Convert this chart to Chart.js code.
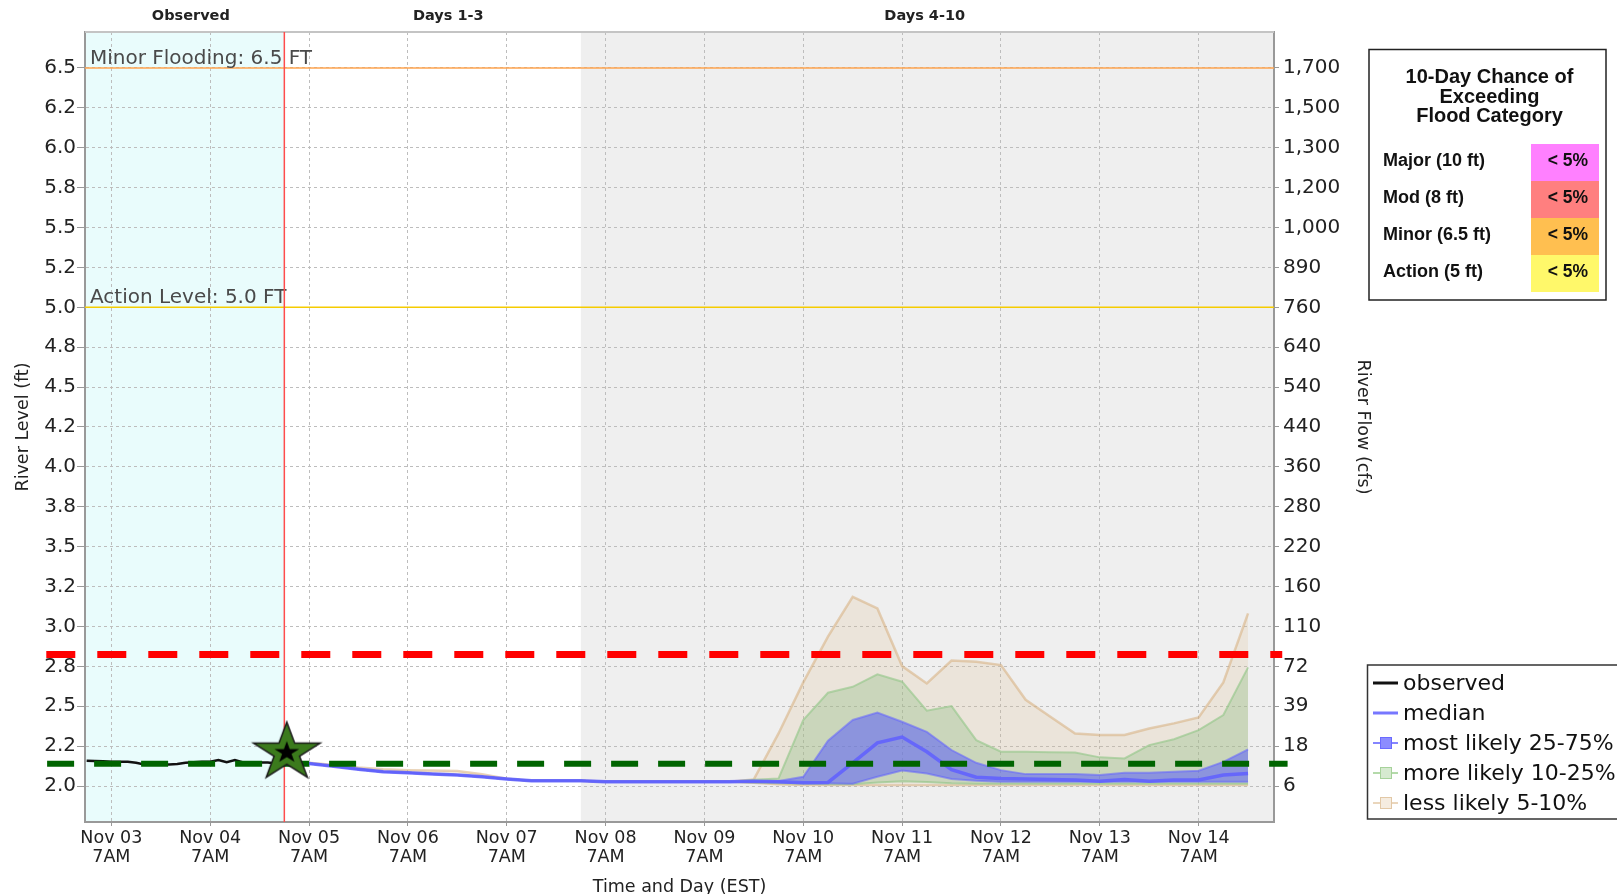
<!DOCTYPE html>
<html>
<head>
<meta charset="utf-8">
<title>River Level Forecast</title>
<script src="https://cdn.jsdelivr.net/npm/chart.js@4.4.1/dist/chart.umd.min.js"></script>
<style>
  html, body { margin: 0; padding: 0; background: #fff; overflow: hidden; }
  #wrap { position: relative; width: 1617px; height: 894px; }
</style>
</head>
<body>
<div id="wrap"><canvas id="riverChart"></canvas></div>
<script>
// Hours are counted from Nov 03 00:00 EST

// ---- axis ticks ----
const tickHours = [7, 31, 55, 79, 103, 127, 151, 175, 199, 223, 247, 271];
const xTickLabels = [
  ['Nov 03', '7AM'], ['Nov 04', '7AM'], ['Nov 05', '7AM'], ['Nov 06', '7AM'],
  ['Nov 07', '7AM'], ['Nov 08', '7AM'], ['Nov 09', '7AM'], ['Nov 10', '7AM'],
  ['Nov 11', '7AM'], ['Nov 12', '7AM'], ['Nov 13', '7AM'], ['Nov 14', '7AM']
];
const stageTicks = [2.0, 2.25, 2.5, 2.75, 3.0, 3.25, 3.5, 3.75, 4.0, 4.25, 4.5, 4.75, 5.0, 5.25, 5.5, 5.75, 6.0, 6.25, 6.5];
const stageTickLabels = ['2.0', '2.2', '2.5', '2.8', '3.0', '3.2', '3.5', '3.8', '4.0', '4.2', '4.5', '4.8', '5.0', '5.2', '5.5', '5.8', '6.0', '6.2', '6.5'];
const flowTickLabels = ['6', '18', '39', '72', '110', '160', '220', '280', '360', '440', '540', '640', '760', '890', '1,000', '1,200', '1,300', '1,500', '1,700'];

// ---- observed stage ----
const observedHours = [1, 3, 5, 7, 9, 11, 13, 15, 17, 19, 21, 23, 25, 27, 29, 31, 33, 35, 37, 39, 41, 43, 45, 47, 49];
const observedStage = [2.159, 2.157, 2.155, 2.152, 2.152, 2.152, 2.146, 2.136, 2.136, 2.135, 2.136, 2.138, 2.146,
  2.150, 2.152, 2.152, 2.163, 2.150, 2.163, 2.148, 2.148, 2.148, 2.148, 2.142, 2.145];

// ---- forecast (6-hourly) ----
const forecastHours = [49, 55, 61, 67, 73, 79, 85, 91, 97, 103, 109, 115, 121, 127, 133, 139, 145, 151, 157, 163,
  169, 175, 181, 187, 193, 199, 205, 211, 217, 223, 229, 235, 241, 247, 253, 259, 265, 271, 277, 283];
const medianStage = [2.145, 2.142, 2.125, 2.106, 2.090, 2.083, 2.075, 2.069, 2.058, 2.044, 2.033, 2.033, 2.033, 2.027, 2.027, 2.027, 2.027, 2.027, 2.027, 2.030,
  2.027, 2.021, 2.023, 2.146, 2.271, 2.307, 2.215, 2.103, 2.056, 2.048, 2.044, 2.042, 2.038, 2.031, 2.042, 2.031, 2.038, 2.038, 2.069, 2.079];
const likely75Stage = [2.145, 2.142, 2.125, 2.106, 2.090, 2.083, 2.075, 2.069, 2.058, 2.044, 2.033, 2.033, 2.033, 2.027, 2.027, 2.027, 2.027, 2.027, 2.027, 2.032,
  2.032, 2.058, 2.284, 2.414, 2.461, 2.403, 2.340, 2.226, 2.146, 2.100, 2.075, 2.075, 2.075, 2.069, 2.083, 2.083, 2.090, 2.096, 2.152, 2.230];
const likely25Stage = [2.145, 2.142, 2.125, 2.106, 2.090, 2.083, 2.075, 2.069, 2.058, 2.044, 2.033, 2.033, 2.033, 2.027, 2.027, 2.027, 2.027, 2.027, 2.027, 2.025,
  2.022, 2.018, 2.018, 2.015, 2.058, 2.098, 2.079, 2.044, 2.033, 2.027, 2.027, 2.027, 2.027, 2.027, 2.027, 2.027, 2.027, 2.027, 2.027, 2.027];
const more10Upper = [2.145, 2.142, 2.125, 2.106, 2.090, 2.083, 2.075, 2.069, 2.058, 2.044, 2.033, 2.033, 2.033, 2.027, 2.027, 2.027, 2.027, 2.027, 2.027, 2.040,
  2.048, 2.414, 2.585, 2.622, 2.700, 2.654, 2.472, 2.501, 2.288, 2.215, 2.215, 2.212, 2.210, 2.180, 2.173, 2.257, 2.294, 2.351, 2.445, 2.744];
const more10Lower = [2.145, 2.142, 2.125, 2.106, 2.090, 2.083, 2.075, 2.069, 2.058, 2.044, 2.033, 2.033, 2.033, 2.027, 2.027, 2.027, 2.027, 2.027, 2.027, 2.022,
  2.018, 2.014, 2.012, 2.012, 2.022, 2.030, 2.025, 2.018, 2.015, 2.015, 2.015, 2.015, 2.015, 2.015, 2.015, 2.015, 2.015, 2.015, 2.015, 2.015];
const less5Upper = [2.147, 2.146, 2.132, 2.117, 2.106, 2.100, 2.097, 2.094, 2.074, 2.046, 2.034, 2.034, 2.034, 2.028, 2.028, 2.028, 2.028, 2.028, 2.028, 2.042,
  2.330, 2.650, 2.936, 3.186, 3.113, 2.752, 2.643, 2.787, 2.779, 2.758, 2.541, 2.434, 2.330, 2.320, 2.320, 2.361, 2.393, 2.430, 2.650, 3.082];
const less5Lower = [2.145, 2.142, 2.125, 2.106, 2.090, 2.083, 2.075, 2.069, 2.058, 2.044, 2.033, 2.033, 2.033, 2.027, 2.027, 2.027, 2.027, 2.027, 2.027, 2.020,
  2.010, 2.006, 2.006, 2.006, 2.006, 2.006, 2.006, 2.006, 2.006, 2.006, 2.006, 2.006, 2.006, 2.006, 2.006, 2.006, 2.006, 2.006, 2.006, 2.006];

// ---- reference levels ----
const floodStages = [6.5, 5.0];
const floodLabels = ['Minor Flooding: 6.5 FT', 'Action Level: 5.0 FT'];
const nowHour = 49;          // end of observed period
const day4Hour = 121;        // start of days 4-10
const periodLabels = ['Observed', 'Days 1-3', 'Days 4-10'];
const latestPoint = [{x: 49.6, y: 2.21}];
const redDashHours = [-8.8, 291.3];
const redDashStage = [2.825, 2.825];
const greenDashHours = [-8.6, 292.6];
const greenDashStage = [2.14, 2.14];

// ---- legend / table text ----
const seriesNames = ['observed', 'median', 'most likely 25-75%', 'more likely 10-25%', 'less likely 5-10%'];
const chanceTitle = ['10-Day Chance of', 'Exceeding', 'Flood Category'];
const chanceCategories = ['Major (10 ft)', 'Mod (8 ft)', 'Minor (6.5 ft)', 'Action (5 ft)'];
const chanceValues = ['< 5%', '< 5%', '< 5%', '< 5%'];


function toPoints(xs, ys) {
  return xs.map((x, i) => ({x: x, y: ys[i]}));
}

// green star with a small black star inside (latest observation marker)
function makeStarMarker() {
  const c = document.createElement('canvas');
  c.width = 76;
  c.height = 66;
  const g = c.getContext('2d');
  const star = (rx, ry, fill, stroke) => {
    g.beginPath();
    for (let k = 0; k < 10; k++) {
      const r = k % 2 === 0 ? 1 : 0.382;
      const a = -Math.PI / 2 + k * Math.PI / 5;
      const px = 38 + Math.cos(a) * rx * r;
      const py = 33 + Math.sin(a) * ry * r;
      if (k === 0) g.moveTo(px, py); else g.lineTo(px, py);
    }
    g.closePath();
    g.fillStyle = fill;
    g.fill();
    if (stroke) {
      g.strokeStyle = stroke;
      g.lineWidth = 1.5;
      g.stroke();
    }
  };
  star(35, 30.5, '#3B7A1C', '#1A1A1A');
  star(13, 11.5, '#000000', null);
  return c;
}

const FONT = "'DejaVu Sans', sans-serif";
const TABLE_FONT = "'Liberation Sans', Arial, sans-serif";
Chart.defaults.font.family = FONT;
Chart.defaults.color = '#222';

// shaded periods, flood lines, the "now" line
const backdropPlugin = {
  id: 'backdrop',
  beforeDraw(chart) {
    const {ctx, chartArea: a, scales: {x}} = chart;
    const xNow = x.getPixelForValue(nowHour);
    const xDay4 = x.getPixelForValue(day4Hour);
    ctx.save();
    ctx.fillStyle = '#E9FCFC';
    ctx.fillRect(a.left, a.top, xNow - a.left, a.bottom - a.top);
    ctx.fillStyle = '#EFEFEF';
    ctx.fillRect(xDay4, a.top, a.right - xDay4, a.bottom - a.top);
    ctx.restore();
  },
  beforeDatasetsDraw(chart) {
    const {ctx, chartArea: a, scales: {x, y}} = chart;
    const lineColors = ['#FFA54F', '#F5CC00'];
    ctx.save();
    // top border of plot
    ctx.strokeStyle = '#C4C4C4';
    ctx.lineWidth = 2;
    ctx.beginPath();
    ctx.moveTo(a.left, a.top);
    ctx.lineTo(a.right, a.top);
    ctx.stroke();

    floodStages.forEach((s, i) => {
      const yy = y.getPixelForValue(s);
      ctx.strokeStyle = lineColors[i];
      ctx.lineWidth = 1.5;
      ctx.beginPath();
      ctx.moveTo(a.left, yy);
      ctx.lineTo(a.right, yy);
      ctx.stroke();
      ctx.fillStyle = '#4A4A4A';
      ctx.font = '20px ' + FONT;
      ctx.textAlign = 'left';
      ctx.textBaseline = 'alphabetic';
      ctx.fillText(floodLabels[i], a.left + 5, yy - 4);
    });

    const xNow = x.getPixelForValue(nowHour);
    ctx.strokeStyle = '#FF4C4C';
    ctx.lineWidth = 1.5;
    ctx.beginPath();
    ctx.moveTo(xNow, a.top);
    ctx.lineTo(xNow, a.bottom);
    ctx.stroke();
    ctx.restore();
  },
  afterDraw(chart) {
    const {ctx, scales: {x}} = chart;
    const anchors = [26.3, 88.8, 204.5];
    ctx.save();
    ctx.fillStyle = '#222';
    ctx.font = 'bold 14.5px ' + FONT;
    ctx.textAlign = 'center';
    ctx.textBaseline = 'middle';
    periodLabels.forEach((t, i) => ctx.fillText(t, x.getPixelForValue(anchors[i]), 16));
    ctx.restore();
  }
};

// the flood-category table and the series legend at the right
const sideLegendsPlugin = {
  id: 'sideLegends',
  afterDraw(chart) {
    const ctx = chart.ctx;
    ctx.save();

    // table
    ctx.fillStyle = '#fff';
    ctx.fillRect(1369, 49.5, 237, 250.5);
    ctx.strokeStyle = '#222';
    ctx.lineWidth = 1.5;
    ctx.strokeRect(1369, 49.5, 237, 250.5);
    ctx.fillStyle = '#111';
    ctx.font = 'bold 20px ' + TABLE_FONT;
    ctx.textAlign = 'center';
    ctx.textBaseline = 'middle';
    chanceTitle.forEach((t, i) => ctx.fillText(t, 1489.5, 77.5 + i * 19.7));
    const cellColors = ['#FF80FF', '#FF7F7F', '#FFBF50', '#FFF86A'];
    chanceCategories.forEach((name, i) => {
      const top = 144 + i * 37;
      ctx.fillStyle = cellColors[i];
      ctx.fillRect(1531, top, 68, 37);
      ctx.fillStyle = '#111';
      ctx.font = 'bold 18px ' + TABLE_FONT;
      ctx.textAlign = 'left';
      ctx.fillText(name, 1383, top + 17.5);
      ctx.font = 'bold 17.5px ' + TABLE_FONT;
      ctx.textAlign = 'right';
      ctx.fillText(chanceValues[i], 1588, top + 17.5);
    });

    // series legend
    ctx.fillStyle = '#fff';
    ctx.fillRect(1367.5, 665, 260, 154);
    ctx.strokeStyle = '#333';
    ctx.lineWidth = 1.5;
    ctx.strokeRect(1367.5, 665, 260, 154);
    const icons = [
      {line: '#111', width: 3},
      {line: '#7777FF', width: 3},
      {line: '#8585FF', width: 2, box: '#8C8CFF', boxLine: '#6A6AFF'},
      {line: '#B4DAAA', width: 2, box: '#D6EAD0', boxLine: '#A6D29A'},
      {line: '#EAD6BC', width: 2, box: '#F5ECE0', boxLine: '#E2C8A6'}
    ];
    seriesNames.forEach((t, i) => {
      const yy = 683 + i * 30;
      const ic = icons[i];
      ctx.strokeStyle = ic.line;
      ctx.lineWidth = ic.width;
      ctx.beginPath();
      ctx.moveTo(1373, yy);
      ctx.lineTo(1398, yy);
      ctx.stroke();
      if (ic.box) {
        ctx.fillStyle = ic.box;
        ctx.fillRect(1380.5, yy - 5.5, 11, 11);
        ctx.strokeStyle = ic.boxLine;
        ctx.lineWidth = 1;
        ctx.strokeRect(1380.5, yy - 5.5, 11, 11);
      }
      ctx.fillStyle = '#111';
      ctx.font = '22px ' + FONT;
      ctx.textAlign = 'left';
      ctx.textBaseline = 'middle';
      ctx.fillText(t, 1403, yy + 1);
    });
    ctx.restore();
  }
};

const starMarker = makeStarMarker();

// index 0 is drawn on top
const datasets = [
  {label: 'latest', data: latestPoint, showLine: false, pointStyle: starMarker, pointRadius: 5},
  {label: 'red threshold', data: toPoints(redDashHours, redDashStage), borderColor: '#FF0000',
    borderWidth: 7, borderDash: [29, 22], borderCapStyle: 'butt', clip: false},
  {label: 'green threshold', data: toPoints(greenDashHours, greenDashStage), borderColor: '#006400',
    borderWidth: 6, borderDash: [27, 20], borderCapStyle: 'butt', clip: false},
  {label: 'observed', data: toPoints(observedHours, observedStage), borderColor: '#111', borderWidth: 2.5},
  {label: 'median', data: toPoints(forecastHours, medianStage), borderColor: 'rgba(95,95,255,0.85)', borderWidth: 3.5},
  {label: 'most likely 75', data: toPoints(forecastHours, likely75Stage), borderColor: 'rgba(100,100,255,0.55)',
    borderWidth: 2, fill: '+1', backgroundColor: 'rgba(90,95,250,0.55)'},
  {label: 'most likely 25', data: toPoints(forecastHours, likely25Stage), borderColor: 'rgba(100,100,255,0.55)', borderWidth: 2},
  {label: 'more likely upper', data: toPoints(forecastHours, more10Upper), borderColor: 'rgba(150,200,140,0.65)',
    borderWidth: 2, fill: '+1', backgroundColor: 'rgba(140,190,130,0.35)'},
  {label: 'more likely lower', data: toPoints(forecastHours, more10Lower), borderColor: 'rgba(150,200,140,0.65)', borderWidth: 2},
  {label: 'less likely upper', data: toPoints(forecastHours, less5Upper), borderColor: 'rgba(215,175,125,0.55)',
    borderWidth: 2.5, fill: '+1', backgroundColor: 'rgba(222,184,135,0.2)'},
  {label: 'less likely lower', data: toPoints(forecastHours, less5Lower), borderColor: 'rgba(215,175,125,0.55)', borderWidth: 2}
];
datasets.forEach(d => { d.xAxisID = 'x'; d.yAxisID = 'y'; });

new Chart(document.getElementById('riverChart'), {
  type: 'line',
  data: {datasets: datasets},
  options: {
    responsive: true,
    maintainAspectRatio: false,
    animation: false,
    events: [],
    layout: {padding: {left: 9, right: 240, top: 32, bottom: 0}},
    elements: {point: {radius: 0}, line: {tension: 0}},
    plugins: {legend: {display: false}, tooltip: {enabled: false}},
    scales: {
      x: {
        type: 'linear',
        min: 0.6,
        max: 289.3,
        afterBuildTicks: s => { s.ticks = tickHours.map(v => ({value: v})); },
        afterFit: s => { s.height = 72; },
        ticks: {autoSkip: false, maxRotation: 0, padding: 3, color: '#222',
          font: {size: 17.5, lineHeight: 1.08}, callback: (v, i) => xTickLabels[i]},
        grid: {color: '#BDBDBD', tickColor: '#999', tickLength: 4},
        border: {color: '#999', width: 2, dash: [3, 3]},
        title: {display: true, text: 'Time and Day (EST)', color: '#222',
          font: {size: 17.5, lineHeight: 1.0}, padding: {top: 0, bottom: -2}}
      },
      y: {
        type: 'linear',
        position: 'left',
        min: 1.775,
        max: 6.725,
        afterBuildTicks: s => { s.ticks = stageTicks.map(v => ({value: v})); },
        afterFit: s => { s.width = 76; },
        ticks: {padding: 1, color: '#222', font: {size: 20}, callback: (v, i) => stageTickLabels[i]},
        grid: {color: '#BDBDBD', tickColor: '#999', tickLength: 8},
        border: {color: '#999', width: 2, dash: [3, 3]},
        title: {display: true, text: 'River Level (ft)', color: '#222', font: {size: 17.5}}
      },
      y2: {
        type: 'linear',
        position: 'right',
        min: 1.775,
        max: 6.725,
        afterBuildTicks: s => { s.ticks = stageTicks.map(v => ({value: v})); },
        afterFit: s => { s.width = 103; },
        ticks: {padding: 4, color: '#222', font: {size: 20}, callback: (v, i) => flowTickLabels[i]},
        grid: {drawOnChartArea: false, tickColor: '#999', tickLength: 5},
        border: {color: '#999', width: 2},
        title: {display: true, text: 'River Flow (cfs)', color: '#222', font: {size: 17.5}}
      }
    }
  },
  plugins: [backdropPlugin, sideLegendsPlugin]
});
</script>
</body>
</html>
